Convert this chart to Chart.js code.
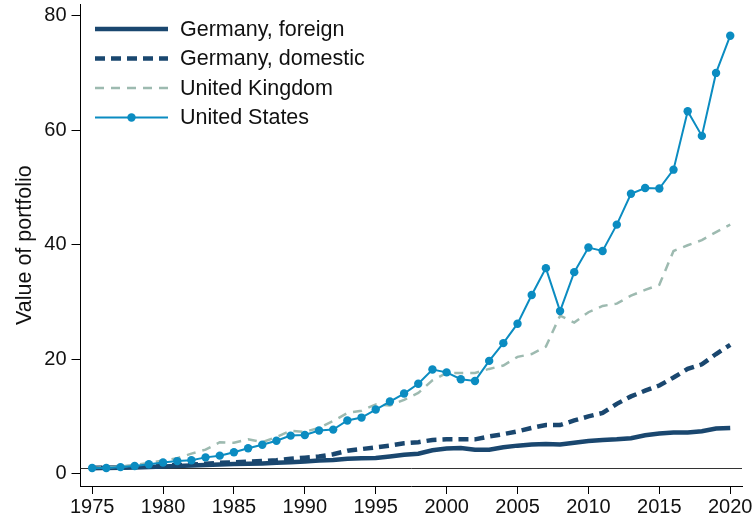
<!DOCTYPE html>
<html>
<head>
    <title>Value of portfolio</title>
    <script src="https://cdn.jsdelivr.net/npm/chart.js"></script>
    <style>
        body { margin: 0; background: #fff; }
        #wrap { width: 752px; height: 517px; }
    </style>
</head>
<body>
    <div id="wrap"><canvas id="portfolioChart" width="752" height="517"></canvas></div>

    <script>
        const years = [];
        for (let y = 1975; y <= 2020; y++) years.push(y);
        const xTicks = [1975, 1980, 1985, 1990, 1995, 2000, 2005, 2010, 2015, 2020];
        const yTicks = [0, 20, 40, 60, 80];

        const germanyForeign = [
            1.0, 1.0, 1.05, 1.1, 1.15, 1.25, 1.35, 1.45, 1.5, 1.6,
            1.7, 1.75, 1.8, 1.9, 2.0, 2.15, 2.3, 2.4, 2.6, 2.7,
            2.75, 3.0, 3.3, 3.5, 4.1, 4.4, 4.5, 4.2, 4.2, 4.6,
            4.9, 5.1, 5.2, 5.1, 5.4, 5.7, 5.9, 6.0, 6.2, 6.7,
            7.0, 7.2, 7.2, 7.4, 7.9, 8.0
        ];
        const germanyDomestic = [
            1.0, 1.05, 1.1, 1.2, 1.3, 1.4, 1.5, 1.6, 1.75, 1.9,
            2.0, 2.1, 2.2, 2.35, 2.6, 2.8, 3.0, 3.4, 4.0, 4.3,
            4.6, 4.9, 5.3, 5.5, 5.9, 6.0, 6.0, 6.0, 6.5, 6.9,
            7.4, 8.0, 8.5, 8.5, 9.3, 10.0, 10.6, 12.2, 13.5, 14.5,
            15.4, 16.8, 18.3, 19.1, 20.9, 22.5
        ];
        const unitedKingdom = [
            1.0, 1.1, 1.25, 1.5, 1.85, 2.3, 2.7, 3.5, 4.2, 5.5,
            5.4, 6.0, 5.5, 6.4, 7.5, 7.3, 8.0, 9.2, 10.6, 11.0,
            12.1, 11.9, 12.9, 14.1, 16.3, 17.6, 17.6, 17.6, 18.3, 18.9,
            20.4, 20.9, 22.2, 27.6, 26.4, 28.2, 29.3, 29.7, 31.1, 32.1,
            33.0, 38.9, 39.9, 40.8, 42.2, 43.5
        ];
        const unitedStates = [
            1.0, 1.0, 1.15, 1.35, 1.65, 1.95, 2.2, 2.35, 2.85, 3.15,
            3.75, 4.45, 5.05, 5.75, 6.65, 6.75, 7.55, 7.7, 9.3, 9.8,
            11.2, 12.6, 14.0, 15.7, 18.2, 17.7, 16.5, 16.2, 19.7, 22.8,
            26.2, 31.2, 35.9, 28.4, 35.2, 39.5, 38.9, 43.5, 48.9, 49.9,
            49.8, 53.1, 63.3, 59.0, 70.0, 76.5
        ];

        const NAVY = '#1a476f';
        const SAGE = '#9dbab0';
        const BLUE = '#0b8cc1';
        const FONT = 'Arial, "Liberation Sans", sans-serif';

        function pts(values) {
            return values.map((v, i) => ({ x: years[i], y: v }));
        }

        // horizontal reference line at the starting value 1
        const refLine = {
            id: 'refLine',
            beforeDatasetsDraw(chart) {
                const { ctx, chartArea, scales } = chart;
                const y = Math.round(scales.y.getPixelForValue(1)) + 0.5;
                ctx.save();
                ctx.strokeStyle = '#333';
                ctx.lineWidth = 1;
                ctx.beginPath();
                ctx.moveTo(chartArea.left, y);
                ctx.lineTo(chartArea.right, y);
                ctx.stroke();
                ctx.restore();
            }
        };

        // Stata-style legend with line samples in the upper left
        const lineLegend = {
            id: 'lineLegend',
            afterDraw(chart) {
                const ctx = chart.ctx;
                const x0 = 95, x1 = 168, textX = 180;
                chart.data.datasets.forEach((ds, i) => {
                    const y = 29 + i * 29.5;
                    ctx.save();
                    ctx.strokeStyle = ds.borderColor;
                    ctx.lineWidth = ds.borderWidth;
                    ctx.setLineDash(ds.borderDash || []);
                    ctx.beginPath();
                    ctx.moveTo(x0, y);
                    ctx.lineTo(x1, y);
                    ctx.stroke();
                    if (ds.pointRadius > 0) {
                        ctx.setLineDash([]);
                        ctx.fillStyle = ds.pointBackgroundColor;
                        ctx.beginPath();
                        ctx.arc((x0 + x1) / 2, y, ds.pointRadius, 0, Math.PI * 2);
                        ctx.fill();
                    }
                    ctx.fillStyle = '#111';
                    ctx.font = '21.5px ' + FONT;
                    ctx.textBaseline = 'middle';
                    ctx.fillText(ds.label, textX, y + 1);
                    ctx.restore();
                });
            }
        };

        const ctx = document.getElementById('portfolioChart').getContext('2d');
        const chart = new Chart(ctx, {
            type: 'line',
            data: {
                datasets: [
                    {
                        label: 'Germany, foreign',
                        data: pts(germanyForeign),
                        borderColor: NAVY,
                        borderWidth: 4.5,
                        pointRadius: 0,
                        order: 2
                    },
                    {
                        label: 'Germany, domestic',
                        data: pts(germanyDomestic),
                        borderColor: NAVY,
                        borderWidth: 4.5,
                        borderDash: [10, 6],
                        pointRadius: 0,
                        order: 3
                    },
                    {
                        label: 'United Kingdom',
                        data: pts(unitedKingdom),
                        borderColor: SAGE,
                        borderWidth: 2.5,
                        borderDash: [9, 7],
                        pointRadius: 0,
                        order: 1
                    },
                    {
                        label: 'United States',
                        data: pts(unitedStates),
                        borderColor: BLUE,
                        borderWidth: 2,
                        pointRadius: 4.2,
                        pointBackgroundColor: BLUE,
                        pointBorderWidth: 0,
                        order: 0
                    }
                ]
            },
            options: {
                responsive: false,
                animation: false,
                layout: { padding: { top: 4, right: 10, left: 0, bottom: 0 } },
                plugins: {
                    legend: { display: false },
                    tooltip: { enabled: false }
                },
                elements: { line: { tension: 0, borderCapStyle: 'butt' } },
                scales: {
                    x: {
                        type: 'linear',
                        min: 1974.18,
                        max: 2020.83,
                        afterBuildTicks: s => { s.ticks = xTicks.map(v => ({ value: v })); },
                        afterFit: s => { s.height = 31; s.paddingLeft = 0; s.paddingRight = 0; },
                        grid: { drawOnChartArea: false, tickLength: 8, color: '#000' },
                        border: { display: true, color: '#000', width: 1 },
                        ticks: {
                            color: '#111',
                            font: { family: FONT, size: 20 },
                            padding: 1,
                            maxRotation: 0,
                            autoSkip: false,
                            callback: v => String(v)
                        }
                    },
                    y: {
                        min: -2.15,
                        max: 82,
                        afterBuildTicks: s => { s.ticks = yTicks.map(v => ({ value: v })); },
                        afterFit: s => { s.width = 80.5; s.paddingTop = 0; s.paddingBottom = 0; },
                        grid: { drawOnChartArea: false, tickLength: 9, color: '#000' },
                        border: { display: true, color: '#000', width: 1 },
                        ticks: {
                            color: '#111',
                            font: { family: FONT, size: 20 },
                            padding: 5,
                            callback: v => String(v)
                        },
                        title: {
                            display: true,
                            text: 'Value of portfolio',
                            color: '#111',
                            font: { family: FONT, size: 21.5 },
                            padding: { top: 12, bottom: 0 }
                        }
                    }
                }
            },
            plugins: [refLine, lineLegend]
        });
    </script>
</body>
</html>
